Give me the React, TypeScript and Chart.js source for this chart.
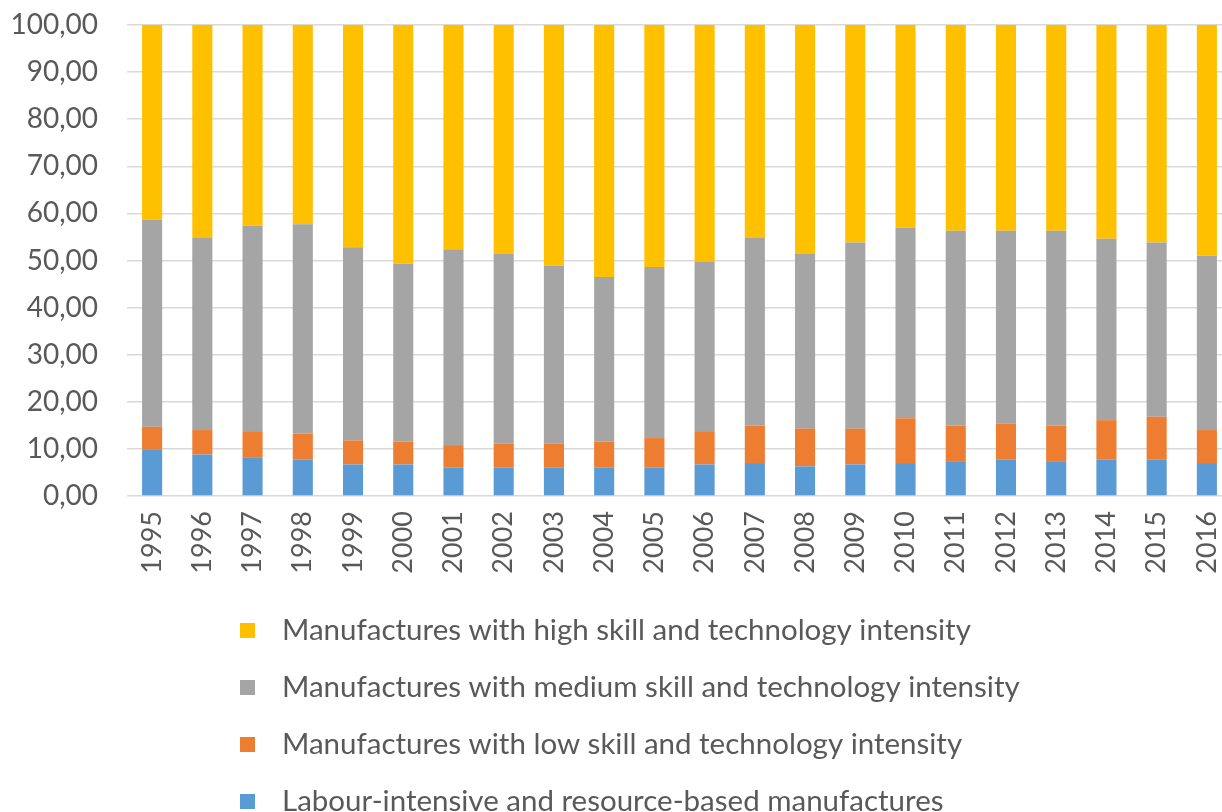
import React, { useEffect, useRef } from "react";
import { Chart, registerables } from "chart.js";

Chart.register(...registerables);

const years = ["1995","1996","1997","1998","1999","2000","2001","2002","2003","2004","2005","2006","2007","2008","2009","2010","2011","2012","2013","2014","2015","2016"];
const labour = [9.9,8.8,8.1,7.7,6.7,6.7,6.0,6.0,6.0,6.0,6.0,6.7,7.0,6.3,6.7,7.0,7.4,7.7,7.4,7.7,7.7,7.0];
const low = [4.8,5.2,5.5,5.6,5.1,4.9,4.8,5.1,5.1,5.6,6.3,6.9,8.0,8.0,7.6,9.5,7.6,7.7,7.6,8.4,9.1,7.0];
const medium = [44.0,40.8,43.8,44.4,41.0,37.7,41.6,40.3,37.8,34.9,36.3,36.1,39.8,37.1,39.5,40.5,41.3,40.9,41.3,38.5,37.0,37.0];
const high = [41.3,45.2,42.6,42.3,47.2,50.7,47.6,48.6,51.1,53.5,51.4,50.3,45.2,48.6,46.2,43.0,43.7,43.7,43.7,45.4,46.2,49.0];
const seriesLabels = [
  "Labour-intensive and resource-based manufactures",
  "Manufactures with low skill and technology intensity",
  "Manufactures with medium skill and technology intensity",
  "Manufactures with high skill and technology intensity",
];
const colors = ["#5B9BD5", "#ED7D31", "#A5A5A5", "#FFC000"];

const FONT = "Lato";
const TEXT = "#595959";

const legendPlugin = {
  id: "verticalLegend",
  afterDraw(chart: any) {
    const ctx = chart.ctx;
    const ds = chart.data.datasets;
    ctx.save();
    ctx.font = `29.5px ${FONT}`;
    ctx.textBaseline = "middle";
    ctx.textAlign = "left";
    const order = [3, 2, 1, 0];
    const startY = chart.chartArea.bottom + 134;
    order.forEach((di, row) => {
      const y = startY + row * 57;
      ctx.fillStyle = ds[di].backgroundColor;
      ctx.fillRect(240, y - 7, 15, 15);
      ctx.fillStyle = TEXT;
      ctx.fillText(ds[di].label, 282, y);
    });
    ctx.restore();
  },
};

export default function App() {
  const ref = useRef<HTMLCanvasElement | null>(null);
  useEffect(() => {
    document.body.style.margin = "0";
    document.body.style.overflow = "hidden";
    const data = [labour, low, medium, high];
    const chart = new Chart(ref.current!, {
      type: "bar",
      data: {
        labels: years,
        datasets: data.map((d, i) => ({
          label: seriesLabels[i],
          data: d,
          backgroundColor: colors[i],
          borderWidth: 0,
          barPercentage: 1,
          categoryPercentage: 0.4,
        })),
      },
      options: {
        animation: false,
        responsive: true,
        maintainAspectRatio: false,
        layout: { padding: { top: 25, right: 0, bottom: 226, left: 0 } },
        plugins: { legend: { display: false }, tooltip: { enabled: false } },
        scales: {
          x: {
            stacked: true,
            grid: { display: false, drawTicks: false },
            border: { display: false },
            ticks: {
              color: TEXT,
              font: { family: FONT, size: 27 },
              minRotation: 90,
              maxRotation: 90,
              padding: 15,
              autoSkip: false,
            },
            afterFit: (s: any) => {
              s.height = 90;
              s.paddingLeft = 0;
              s.paddingRight = 0;
            },
          },
          y: {
            stacked: true,
            min: 0,
            max: 100,
            grid: { color: "#d9d9d9", lineWidth: 1.5, drawTicks: false },
            border: { display: false },
            ticks: {
              stepSize: 10,
              color: TEXT,
              font: { family: FONT, size: 28 },
              padding: 29,
              callback: (v: any) => Number(v).toFixed(2).replace(".", ","),
            },
            afterFit: (s: any) => {
              s.width = 127;
              s.paddingTop = 0;
              s.paddingBottom = 0;
            },
          },
        },
      },
      plugins: [legendPlugin],
    });
    return () => chart.destroy();
  }, []);
  return (
    <div style={{ width: 1222, height: 812, overflow: "hidden" }}>
      <div style={{ width: 1232, height: 812, position: "relative" }}>
        <canvas ref={ref} />
      </div>
    </div>
  );
}
